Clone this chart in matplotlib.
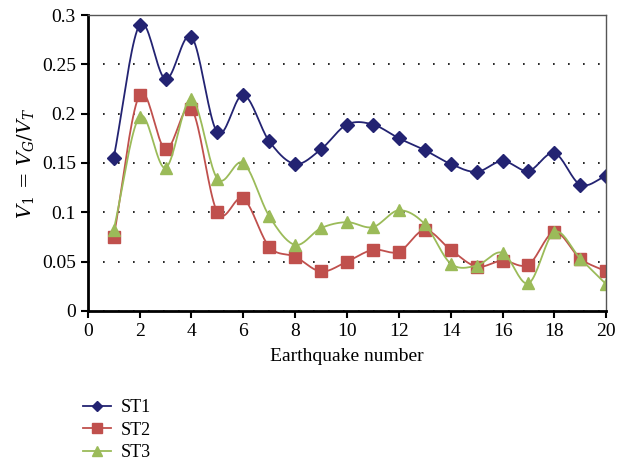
import numpy as np
import matplotlib
matplotlib.use('Agg')
import matplotlib.pyplot as plt

plt.rcParams['font.family'] = ['Liberation Serif', 'DejaVu Serif']
plt.rcParams['mathtext.fontset'] = 'dejavuserif'

# data
quake = np.arange(1, 21)
st1 = [0.155, 0.290, 0.235, 0.278, 0.181, 0.219, 0.172, 0.149, 0.164, 0.189,
       0.189, 0.175, 0.163, 0.149, 0.141, 0.152, 0.142, 0.160, 0.128, 0.137]
st2 = [0.075, 0.219, 0.164, 0.205, 0.100, 0.114, 0.065, 0.055, 0.040, 0.050,
       0.062, 0.060, 0.082, 0.062, 0.045, 0.051, 0.047, 0.080, 0.053, 0.040]
st3 = [0.082, 0.197, 0.145, 0.215, 0.134, 0.150, 0.096, 0.067, 0.084, 0.090,
       0.085, 0.102, 0.088, 0.048, 0.046, 0.059, 0.028, 0.080, 0.053, 0.027]
names = ['ST1', 'ST2', 'ST3']
colors = ['#232372', '#C0504D', '#9BBB59']
markers = ['D', 's', '^']
msizes = [7, 9, 9]


def smooth(x, y, n=20):
    # catmull-rom curve through the points, like excel's smoothed line
    x = np.asarray(x, float)
    y = np.asarray(y, float)
    px = np.concatenate([[2 * x[0] - x[1]], x, [2 * x[-1] - x[-2]]])
    py = np.concatenate([[2 * y[0] - y[1]], y, [2 * y[-1] - y[-2]]])
    xs, ys = [], []
    t = np.linspace(0, 1, n, endpoint=False)
    for i in range(1, len(px) - 2):
        for p, out in ((px, xs), (py, ys)):
            p0, p1, p2, p3 = p[i - 1], p[i], p[i + 1], p[i + 2]
            out.extend(0.5 * (2 * p1 + (-p0 + p2) * t
                              + (2 * p0 - 5 * p1 + 4 * p2 - p3) * t ** 2
                              + (-p0 + 3 * p1 - 3 * p2 + p3) * t ** 3))
    xs.append(x[-1])
    ys.append(y[-1])
    return np.array(xs), np.array(ys)


fig = plt.figure(figsize=(6.18, 4.69), dpi=100)
ax = fig.add_axes([0.142, 0.337, 0.839, 0.631])

for vals, name, c, m, ms in zip([st1, st2, st3], names, colors, markers, msizes):
    sx, sy = smooth(quake, vals)
    ax.plot(sx, sy, color=c, lw=1.3)
    ax.plot(quake, vals, ls='none', marker=m, color=c, ms=ms)
    ax.plot([], [], color=c, lw=1.3, marker=m, ms=ms * 0.75, label=name)

ax.set_xlim(0, 20)
ax.set_ylim(0, 0.3)
ax.set_xticks(np.arange(0, 21, 2))
ax.set_yticks(np.arange(0, 0.31, 0.05))
ax.set_yticklabels(['0', '0.05', '0.1', '0.15', '0.2', '0.25', '0.3'])
ax.yaxis.grid(True, ls=(0, (1, 8)), color='black', lw=1.2)
ax.tick_params(labelsize=14, direction='out', length=5, width=1.5)
for s in ['left', 'bottom']:
    ax.spines[s].set_linewidth(2)
for s in ['top', 'right']:
    ax.spines[s].set_color('#555555')
    ax.spines[s].set_linewidth(1)

ax.set_xlabel('Earthquake number', fontsize=14, labelpad=6)
ax.set_ylabel(r'$V_1\,=\,V_G/V_T$', fontsize=14)

fig.legend(loc='upper left', bbox_to_anchor=(0.12, 0.168), frameon=False,
           fontsize=13, handlelength=1.55, handletextpad=0.55,
           labelspacing=0.3, borderpad=0)

fig.savefig('out.png', dpi=100)
